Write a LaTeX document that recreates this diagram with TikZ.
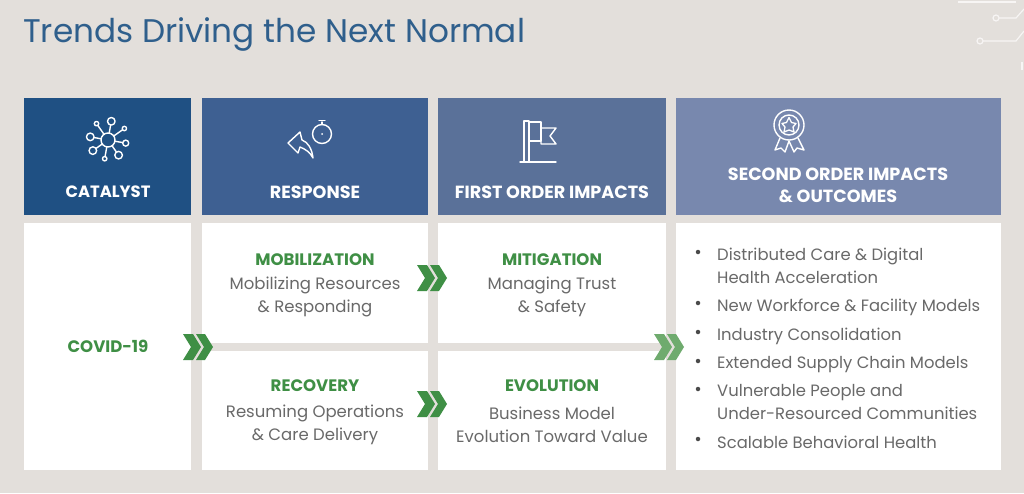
\documentclass[tikz,border=0pt]{standalone}
\usepackage{fontspec}
\usetikzlibrary{calc}
\setmainfont{Poppins}
\definecolor{bg}{HTML}{E3DFDB}
\definecolor{cA}{HTML}{1F5083}
\definecolor{cB}{HTML}{3E6092}
\definecolor{cC}{HTML}{5A7199}
\definecolor{cD}{HTML}{7888AE}
\definecolor{grn}{HTML}{3F8F45}
\definecolor{grnl}{HTML}{6FAB6E}
\definecolor{txt}{HTML}{696969}
\definecolor{ttl}{HTML}{2F5F8C}
\tikzset{
  hdr/.style={inner sep=0pt,outer sep=0pt,anchor=north west,text=white},
  bodybox/.style={fill=white,inner sep=0pt,outer sep=0pt,anchor=north west},
  hlabel/.style={text=white,font=\fontsize{17.6}{22.5}\selectfont\bfseries,align=center,inner sep=0pt},
  glabel/.style={text=grn,font=\fontsize{16.6}{20}\selectfont\bfseries,align=center,inner sep=0pt},
  blabel/.style={text=txt,font=\fontsize{16.5}{23}\selectfont,align=center,inner sep=0pt},
  ilabel/.style={text=txt,font=\fontsize{16.4}{23}\selectfont,align=left,inner sep=0pt,anchor=west},
  ico/.style={draw=white,line width=1.4pt,line cap=round,line join=round},
  dotb/.style={circle,fill=txt!70!black,inner sep=0pt,minimum size=4.5pt},
  chev/.pic={
    \fill[pic actions] (-15,-13) -- (-5,-13) -- (3,0) -- (-5,13) -- (-15,13) -- (-7,0) -- cycle;
    \fill[pic actions] (-2,-13) -- (7,-13) -- (15,0) -- (7,13) -- (-2,13) -- (6,0) -- cycle;
  }
}
\begin{document}
\begin{tikzpicture}[x=1pt,y=-1pt]
\fill[bg] (0,0) rectangle (1024,493);
\useasboundingbox (0,0) rectangle (1024,493);
% title
\node[anchor=west,inner sep=0pt,text=ttl,font=\fontsize{32.7}{36}\selectfont] (title) at (23,34) {Trends Driving the Next Normal};
% circuit decoration
\begin{scope}[draw=white!70!bg,line width=1.2pt]
\draw (958,2) -- (1016,2);
\draw (996,18) circle (3);
\draw (999,18) -- (1016,18) -- (1024,9);
\draw (980,41) circle (3);
\draw (983,41) -- (1016,41) -- (1024,31);
\draw (1022,62) -- (1022,70);
\end{scope}
% headers
\node[hdr,fill=cA,minimum width=167pt,minimum height=117pt] (h1) at (24,98) {};
\node[hdr,fill=cB,minimum width=226pt,minimum height=117pt] (h2) at (202,98) {};
\node[hdr,fill=cC,minimum width=228pt,minimum height=117pt] (h3) at (438,98) {};
\node[hdr,fill=cD,minimum width=325pt,minimum height=117pt] (h4) at (676,98) {};
\node[hlabel,font=\fontsize{16.4}{22.5}\selectfont\bfseries] (l1) at (108,192) {CATALYST};
\node[hlabel] (l2) at (315,192) {RESPONSE};
\node[hlabel] (l3) at (552,192) {FIRST ORDER IMPACTS};
\node[hlabel] (l4) at (838,185.5) {SECOND ORDER IMPACTS\\\& OUTCOMES};
% bodies
\node[bodybox,minimum width=167pt,minimum height=247pt] (b1) at (24,223) {};
\node[bodybox,minimum width=226pt,minimum height=120pt] (b2) at (202,223) {};
\node[bodybox,minimum width=226pt,minimum height=119pt] (b3) at (202,351) {};
\node[bodybox,minimum width=228pt,minimum height=120pt] (b4) at (438,223) {};
\node[bodybox,minimum width=228pt,minimum height=119pt] (b5) at (438,351) {};
\node[bodybox,minimum width=325pt,minimum height=247pt] (b6) at (676,223) {};
% band and chevrons
\coordinate (cl) at (198,347);
\coordinate (cr) at (669,347);
\draw[bg,line width=8pt] (cl) -- (cr);
\pic[fill=grn] at (cl) {chev};
\pic[fill=grn] at (432,278) {chev};
\pic[fill=grn] at (432,404) {chev};
\pic[fill=grnl] at (cr) {chev};
% body text
\node[glabel] (covid) at (108,346) {COVID-19};
\node[glabel] (mob) at (315,260) {MOBILIZATION};
\node[blabel] (mobt) at (315,297) {Mobilizing Resources\\\& Responding};
\node[glabel] (mit) at (552,260) {MITIGATION};
\node[blabel] (mitt) at (552,297) {Managing Trust\\\& Safety};
\node[glabel] (rec) at (315,386) {RECOVERY};
\node[blabel] (rect) at (315,425) {Resuming Operations\\\& Care Delivery};
\node[glabel] (evo) at (552,386) {EVOLUTION};
\node[blabel] (evot) at (552,425) {Business Model\\Evolution Toward Value};
% bullets
\node[ilabel] (i1) at (717,266) {Distributed Care \& Digital\\Health Acceleration};
\node[ilabel] (i2) at (717,307) {New Workforce \& Facility Models};
\node[ilabel] (i3) at (717,336) {Industry Consolidation};
\node[ilabel] (i4) at (717,364) {Extended Supply Chain Models};
\node[ilabel] (i5) at (717,402) {Vulnerable People and\\Under-Resourced Communities};
\node[ilabel] (i6) at (717,442) {Scalable Behavioral Health};
\foreach \n/\y in {a/252,b/303,c/332,d/361,e/389,f/439}{\node[dotb] (d\n) at (698,\y) {};}
% catalyst icon
\begin{scope}[ico]
\draw (108,140) circle (7);
\foreach \a/\r/\R in {10/3/18,55/3.8/18.5,100/2.2/19,145/3.8/18.5,190/3.8/18,235/2.2/20,280/3.8/19,325/2.2/20}{
  \draw (108,140) ++(\a:7) -- ($(108,140)+(\a:\R-\r)$);
  \draw ($(108,140)+(\a:\R)$) circle (\r);
}
\end{scope}
% response icon
\begin{scope}[ico]
\draw (322,134) circle (9.5);
\draw (322,122) -- (322,124.5);
\draw (319,120.5) -- (325,120.5);
\fill[white] (322,134) circle (1);
\draw (288,143) -- (300,132) -- (302,140) .. controls (308,142) and (312,149) .. (313,158)
      .. controls (310,152) and (305,149) .. (300,147) -- (298,153) -- cycle;
\end{scope}
% flag icon
\begin{scope}[ico]
\draw (524,161) -- (524,121) -- (529,121) -- (529,161);
\draw (520,162) -- (556,162);
\draw (529,122) -- (541,122) -- (541,141) -- (529,141);
\draw (541,128) -- (556,128) -- (550,136) -- (556,144) -- (541,144) -- (541,141);
\end{scope}
% medal icon
\begin{scope}[ico]
\draw (789,125) circle (15);
\draw (789,125) circle (10);
\draw[line width=1.3pt] (789,117.5) -- (791.5,122.5) -- (796,123.5) -- (793,127) -- (794,132) -- (789,130) -- (784,132) -- (785,127) -- (782,123.5) -- (786.5,122.5) -- cycle;
\draw (780,138) -- (775,150) -- (781,148) -- (785,152) -- (789,141);
\draw (798,138) -- (804,150) -- (797,148) -- (794,152) -- (789,141);
\end{scope}
\end{tikzpicture}
\end{document}
